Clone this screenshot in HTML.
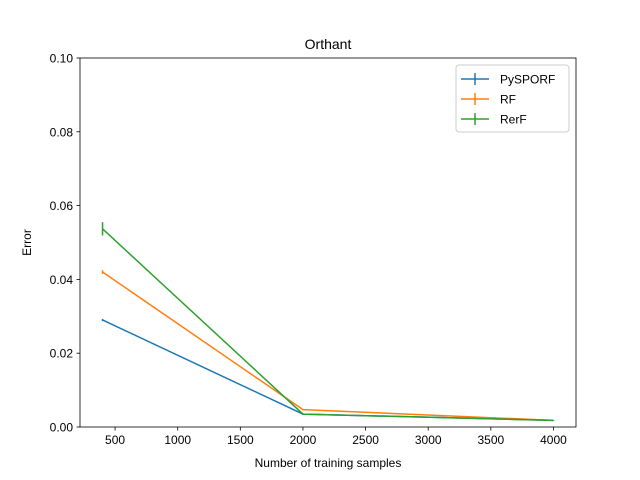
<!DOCTYPE html>
<html><head><meta charset="utf-8"><style>body{margin:0;background:#fff}svg{display:block;font-family:"Liberation Sans","DejaVu Sans",sans-serif}</style></head>
<body>
<svg id="chart" width="640" height="480">
<rect width="640" height="480" fill="#fff"/>
<text x="328" y="49" text-anchor="middle" font-size="14">Orthant</text>
<g id="axes"></g>
<g id="series"></g>
<g id="legend"></g>
</svg>
<script>
const xValues = [400, 2000, 4000];
const seriesNames = ["PySPORF", "RF", "RerF"];
const pysporf = [0.029, 0.0035, 0.0018];
const rf = [0.042, 0.0047, 0.0018];
const rerf = [0.0537, 0.0035, 0.0018];
const pysporfErr = [0.0003, 0.0001, 0.0001];
const rfErr = [0.0005, 0.0002, 0.0001];
const rerfErr = [0.0018, 0.0002, 0.0001];
const xTicks = [500, 1000, 1500, 2000, 2500, 3000, 3500, 4000];
const yTicks = [0, 0.02, 0.04, 0.06, 0.08, 0.1];
const yTickLabels = ["0.00", "0.02", "0.04", "0.06", "0.08", "0.10"];
const colors = ["#1f77b4", "#ff7f0e", "#2ca02c"];

const L=80,R=576,T=58,B=427, xMin=220,xMax=4180,yMin=0,yMax=0.1;
const sx=v=>L+(v-xMin)/(xMax-xMin)*(R-L);
const sy=v=>B-(v-yMin)/(yMax-yMin)*(B-T);
const NS="http://www.w3.org/2000/svg";
function mk(tag,attrs,parent){const e=document.createElementNS(NS,tag);for(const k in attrs)e.setAttribute(k,attrs[k]);parent.appendChild(e);return e;}
const axes=document.getElementById('axes');
xTicks.forEach(t=>{
  const g=mk('g',{},axes);
  
  
  mk('line',{x1:sx(t),x2:sx(t),y1:B,y2:B+3.5,stroke:'#000','stroke-width':0.8},g);
  const tx=mk('text',{x:sx(t),y:B+17,'text-anchor':'middle','font-size':'12'},g);tx.textContent=t;
});
yTicks.forEach((t,i)=>{
  const g=mk('g',{},axes);
  
  
  mk('line',{x1:L-3.5,x2:L,y1:sy(t),y2:sy(t),stroke:'#000','stroke-width':0.8},g);
  const tx=mk('text',{x:L-7,y:sy(t)+4.5,'text-anchor':'end','font-size':'12'},g);tx.textContent=yTickLabels[i];
});
const frame=mk('rect',{x:L,y:T,width:R-L,height:B-T,fill:'none',stroke:'#000','stroke-width':0.8},axes);


const xl=mk('text',{x:(L+R)/2,y:467,'text-anchor':'middle','font-size':'12'},axes);xl.textContent='Number of training samples';


const yl=mk('text',{x:0,y:0,'text-anchor':'middle','font-size':'12',transform:`translate(31,${(T+B)/2}) rotate(-90)`},axes);yl.textContent='Error';



const sg=document.getElementById('series');
[[pysporf,pysporfErr],[rf,rfErr],[rerf,rerfErr]].forEach(([ys,es],si)=>{
  const g=mk('g',{},sg);
  
  
  mk('polyline',{points:xValues.map((x,i)=>sx(x)+','+sy(ys[i])).join(' '),fill:'none',stroke:colors[si],'stroke-width':1.5},g);
  xValues.forEach((x,i)=>{
    const eb=mk('line',{x1:sx(x),x2:sx(x),y1:sy(ys[i]-es[i]),y2:sy(ys[i]+es[i]),stroke:colors[si],'stroke-width':1.5},g);
    
    
  });
});
const lg=document.getElementById('legend');
mk('rect',{x:456,y:65,width:113,height:67,rx:3,fill:'#fff','fill-opacity':0.8,stroke:'#ccc'},lg);
seriesNames.forEach((n,i)=>{
  const y=79+i*20;
  const g=mk('g',{},lg);
  
  
  mk('line',{x1:461,x2:489,y1:y,y2:y,stroke:colors[i],'stroke-width':1.5},g);
  mk('line',{x1:475,x2:475,y1:y-6,y2:y+6,stroke:colors[i],'stroke-width':1.5},g);
  const t=mk('text',{x:500,y:y+4.5,'font-size':'12'},g);t.textContent=n;
});
</script>
</body></html>
